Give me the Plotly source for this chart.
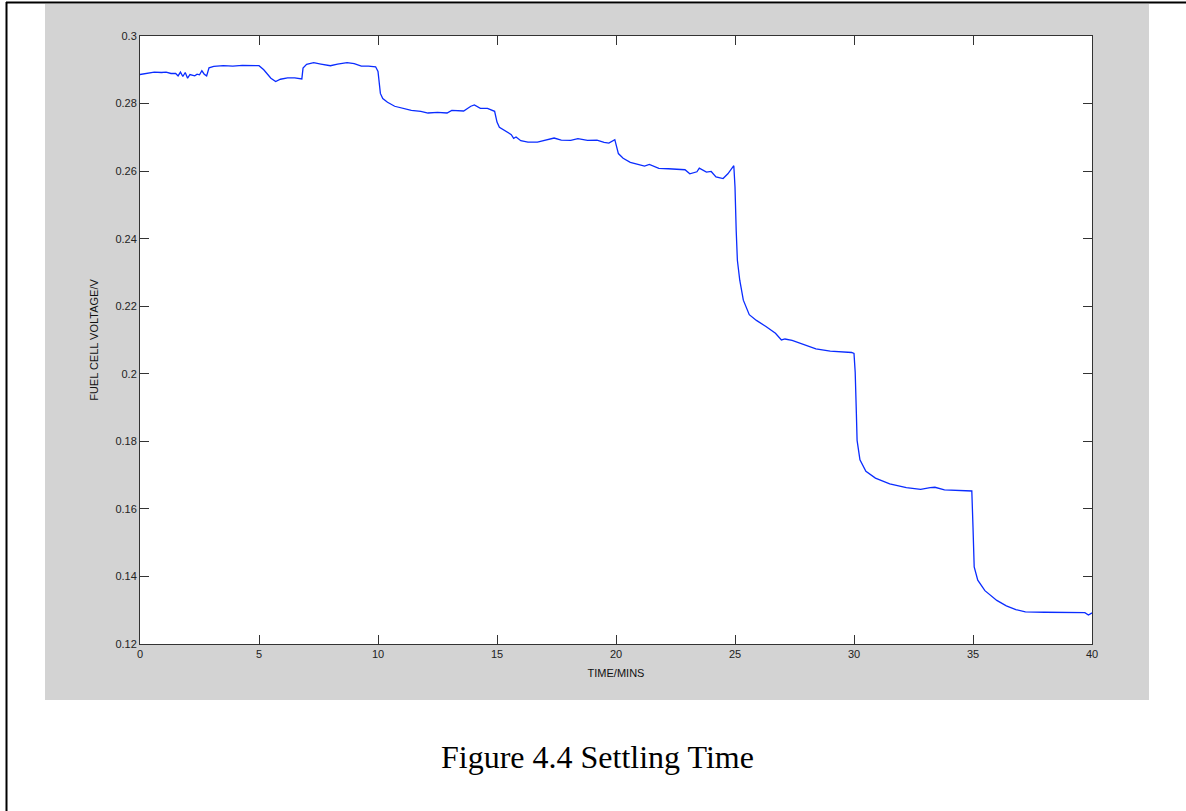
import plotly.graph_objects as go

time_mins = [0.0, 0.3, 0.6, 0.9, 1.1, 1.3, 1.5, 1.6, 1.7, 1.8, 1.9, 2.0, 2.1, 2.3, 2.4, 2.5, 2.6, 2.7, 2.8, 2.9,
             3.1, 3.5, 3.9, 4.3, 4.7, 5.0, 5.2, 5.5, 5.7, 5.9, 6.2, 6.5, 6.8, 6.85, 7.0, 7.3, 7.6, 8.0, 8.3, 8.7,
             9.0, 9.3, 9.6, 9.9, 10.0, 10.1, 10.2, 10.4, 10.7, 11.0, 11.4, 11.8, 12.1, 12.5, 12.9, 13.1, 13.4, 13.6,
             13.9, 14.05, 14.3, 14.6, 14.9, 15.0, 15.1, 15.4, 15.6, 15.7, 15.8, 16.0, 16.3, 16.7, 17.0, 17.4, 17.7,
             18.1, 18.4, 18.8, 19.2, 19.5, 19.7, 19.95, 20.1, 20.3, 20.6, 20.9, 21.2, 21.4, 21.8, 22.2, 22.6, 22.9,
             23.1, 23.4, 23.5, 23.7, 23.8, 24.0, 24.2, 24.5, 24.7, 24.95, 25.0, 25.05, 25.1, 25.2, 25.35, 25.6, 25.9,
             26.3, 26.7, 26.95, 27.1, 27.4, 27.9, 28.4, 29.0, 29.6, 29.9, 30.0, 30.05, 30.1, 30.13, 30.25, 30.5,
             30.9, 31.5, 32.2, 32.8, 33.2, 33.4, 33.8, 34.4, 34.95, 35.0, 35.05, 35.2, 35.5, 36.0, 36.4, 36.8, 37.2,
             38.0, 39.0, 39.7, 39.85, 40.0]

voltage = [0.2886, 0.2889, 0.2893, 0.2892, 0.2893, 0.2889, 0.2889, 0.2882, 0.2893, 0.2880, 0.2892, 0.2875, 0.2886,
           0.2882, 0.2887, 0.2885, 0.2897, 0.2887, 0.2882, 0.2906,
           0.2910, 0.2912, 0.2911, 0.2913, 0.2913, 0.2912, 0.2900, 0.2875, 0.2865, 0.2872, 0.2876, 0.2876, 0.2873,
           0.2905, 0.2916, 0.2921, 0.2917, 0.2912, 0.2917, 0.2921,
           0.2918, 0.2911, 0.2911, 0.2909, 0.2895, 0.2830, 0.2815, 0.2804, 0.2792, 0.2786, 0.2780, 0.2777, 0.2772,
           0.2774, 0.2772, 0.2780, 0.2778, 0.2778,
           0.2792, 0.2796, 0.2786, 0.2786, 0.2777, 0.2745, 0.2730, 0.2718, 0.2708, 0.2697, 0.2701, 0.2690, 0.2686,
           0.2686, 0.2691, 0.2698, 0.2692,
           0.2691, 0.2696, 0.2691, 0.2692, 0.2685, 0.2683, 0.2693, 0.2652, 0.2638, 0.2626, 0.2621, 0.2615, 0.2620,
           0.2608, 0.2607, 0.2605, 0.2604,
           0.2592, 0.2598, 0.2609, 0.2602, 0.2597, 0.2599, 0.2583, 0.2578, 0.2592, 0.2616, 0.2553, 0.2425, 0.2336,
           0.2277, 0.2218, 0.2175, 0.2158,
           0.2140, 0.2120, 0.2100, 0.2103, 0.2099, 0.2087, 0.2074, 0.2067, 0.2065, 0.2063, 0.2060, 0.2005, 0.1882,
           0.1803, 0.1745, 0.1711,
           0.1691, 0.1674, 0.1663, 0.1658, 0.1663, 0.1664, 0.1656, 0.1655, 0.1653, 0.1546, 0.1428, 0.1389, 0.1358,
           0.1329, 0.1313, 0.1302, 0.1295,
           0.1294, 0.1294, 0.1293, 0.1286, 0.1292]

x_ticks = [0, 5, 10, 15, 20, 25, 30, 35, 40]
y_ticks = [0.12, 0.14, 0.16, 0.18, 0.2, 0.22, 0.24, 0.26, 0.28, 0.3]
y_tick_text = ["0.12", "0.14", "0.16", "0.18", "0.2", "0.22", "0.24", "0.26", "0.28", "0.3"]

W, H = 1186, 811
L, R, T, B = 140, 1092, 36, 644  # plot area in pixels
pw, ph = R - L, B - T


def px(x):
    return (x - L) / pw


def py(y):
    return (B - y) / ph


fig = go.Figure()
fig.add_trace(go.Scatter(x=time_mins, y=voltage, mode="lines",
                         line=dict(color="#0a2cff", width=1.3), showlegend=False))

tickfont = dict(family="Liberation Sans, Arial, sans-serif", size=11, color="#222222")
titlefont = dict(family="Liberation Sans, Arial, sans-serif", size=11, color="#111111")
axis_common = dict(showline=True, linecolor="#333333", linewidth=1, mirror="ticks", ticks="inside",
                   ticklen=9, tickcolor="#333333", tickwidth=1, showgrid=False, zeroline=False,
                   tickfont=tickfont)

fig.update_xaxes(range=[0, 40], tickvals=x_ticks, ticktext=[str(v) for v in x_ticks],
                 title=dict(text="TIME/MINS", font=titlefont, standoff=10), **axis_common)
fig.update_yaxes(range=[0.12, 0.3], tickvals=y_ticks, ticktext=y_tick_text,
                 title=dict(text="FUEL CELL VOLTAGE/V", font=titlefont, standoff=14), **axis_common)

shapes = [
    # grey figure background
    dict(type="rect", xref="paper", yref="paper", x0=px(45), x1=px(1149), y0=py(700), y1=py(4),
         fillcolor="#d3d3d3", line=dict(width=0), layer="below"),
    # white axes area
    dict(type="rect", xref="paper", yref="paper", x0=0, x1=1, y0=0, y1=1,
         fillcolor="white", line=dict(width=0), layer="below"),
    # page border lines
    dict(type="line", xref="paper", yref="paper", x0=px(6), x1=px(1186), y0=py(2.5), y1=py(2.5),
         line=dict(color="black", width=2)),
    dict(type="line", xref="paper", yref="paper", x0=px(6.5), x1=px(6.5), y0=py(811), y1=py(2),
         line=dict(color="black", width=2)),
]

fig.update_layout(
    width=W, height=H,
    margin=dict(l=L, r=W - R, t=T, b=H - B, pad=0),
    paper_bgcolor="white", plot_bgcolor="white",
    shapes=shapes,
    annotations=[dict(text="Figure 4.4 Settling Time", xref="paper", yref="paper",
                      x=px(597), y=py(757), xanchor="center", yanchor="middle", showarrow=False,
                      font=dict(family="Liberation Serif, Times New Roman, serif", size=32, color="black"))],
)

fig.write_html("out.html", config={"displayModeBar": False},
               post_script="document.body.style.margin='0';document.body.style.padding='0';")
